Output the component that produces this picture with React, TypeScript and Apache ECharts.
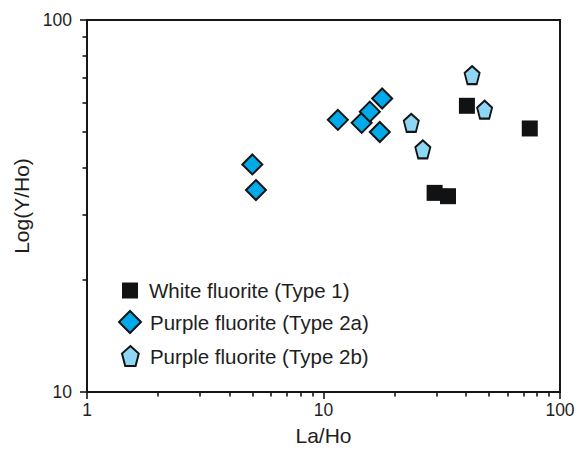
import React, { useEffect, useRef } from "react";
import * as echarts from "echarts";

const seriesNames = ["White fluorite (Type 1)", "Purple fluorite (Type 2a)", "Purple fluorite (Type 2b)"];

const type1: [number, number][] = [
  [40.4, 58.8],
  [74.5, 51.1],
  [29.5, 34.3],
  [33.6, 33.6],
];
const type2a: [number, number][] = [
  [5.0, 40.9],
  [5.18, 34.9],
  [11.5, 53.9],
  [14.5, 52.9],
  [15.7, 56.7],
  [17.7, 61.5],
  [17.3, 50.0],
];
const type2b: [number, number][] = [
  [23.5, 52.9],
  [26.3, 44.9],
  [42.5, 71.1],
  [48.0, 57.4],
];

const FONT = "'Liberation Sans', Arial, Helvetica, sans-serif";
const INK = "#161616";
const SQUARE = "path://M0,0 L10,0 L10,10 L0,10 Z";
const DIAMOND = "path://M0,-10 L10,0 L0,10 L-10,0 Z";
const PENTAGON = "path://M0,-10 L7.6,-3.1 L4.7,8.1 L-4.7,8.1 L-7.6,-3.1 Z";

export default function App() {
  const ref = useRef<HTMLDivElement>(null);
  useEffect(() => {
    if (!ref.current) return;
    const chart = echarts.init(ref.current, null, { renderer: "svg" });
    const legendBase = {
      orient: "vertical",
      symbolKeepAspect: true,
      itemGap: 0,
      padding: 0,
    };
    const legendText = (pad: number) => ({
      fontFamily: FONT,
      fontSize: 20.5,
      color: "#1e1e1e",
      padding: [0, 0, 0, pad],
    });
    const axisCommon = {
      type: "log",
      logBase: 10,
      nameLocation: "middle",
      nameTextStyle: { fontFamily: FONT, fontSize: 21, color: "#1e1e1e" },
      axisLine: { show: true, lineStyle: { color: INK, width: 2 } },
      axisTick: { show: true, inside: false, length: 7, lineStyle: { color: INK, width: 1.6 } },
      minorTick: { show: true, splitNumber: 9, length: 4.5, lineStyle: { color: INK, width: 1.6 } },
      splitLine: { show: false },
      minorSplitLine: { show: false },
    };
    chart.setOption({
      animation: false,
      backgroundColor: "#ffffff",
      grid: {
        left: 87,
        right: 19,
        top: 20,
        bottom: 55,
        show: true,
        borderColor: INK,
        borderWidth: 2,
        backgroundColor: "transparent",
      },
      xAxis: {
        ...axisCommon,
        min: 1,
        max: 100,
        name: "La/Ho",
        nameGap: 33,
        axisLabel: { fontFamily: FONT, fontSize: 17.5, color: "#1e1e1e", margin: 9 },
      },
      yAxis: {
        ...axisCommon,
        min: 10,
        max: 100,
        name: "Log(Y/Ho)",
        nameGap: 54,
        axisLabel: { fontFamily: FONT, fontSize: 17.5, color: "#1e1e1e", margin: 15 },
      },
      legend: [
        { ...legendBase, left: 122, top: 280, itemWidth: 16, itemHeight: 16, textStyle: legendText(6), data: [seriesNames[0]] },
        { ...legendBase, left: 118, top: 310, itemWidth: 22, itemHeight: 22, textStyle: legendText(4), data: [seriesNames[1]] },
        { ...legendBase, left: 121, top: 345, itemWidth: 17, itemHeight: 20, textStyle: legendText(6), data: [seriesNames[2]] },
      ],
      series: [
        {
          name: seriesNames[1],
          type: "scatter",
          symbol: DIAMOND,
          symbolSize: 20,
          data: type2a,
          itemStyle: { color: "#00a9e8", borderColor: "#141414", borderWidth: 2, opacity: 1 },
          z: 3,
        },
        {
          name: seriesNames[2],
          type: "scatter",
          symbol: PENTAGON,
          symbolSize: [15, 18],
          data: type2b,
          itemStyle: { color: "#8fd6f5", borderColor: "#141414", borderWidth: 2, opacity: 1 },
          z: 3,
        },
        {
          name: seriesNames[0],
          type: "scatter",
          symbol: SQUARE,
          symbolSize: 16,
          data: type1,
          itemStyle: { color: "#111214", borderWidth: 0, opacity: 1 },
          z: 3,
        },
      ],
    });
    return () => chart.dispose();
  }, []);
  return (
    <div
      ref={ref}
      style={{ position: "absolute", left: 0, top: 0, width: 579, height: 451 }}
    />
  );
}
